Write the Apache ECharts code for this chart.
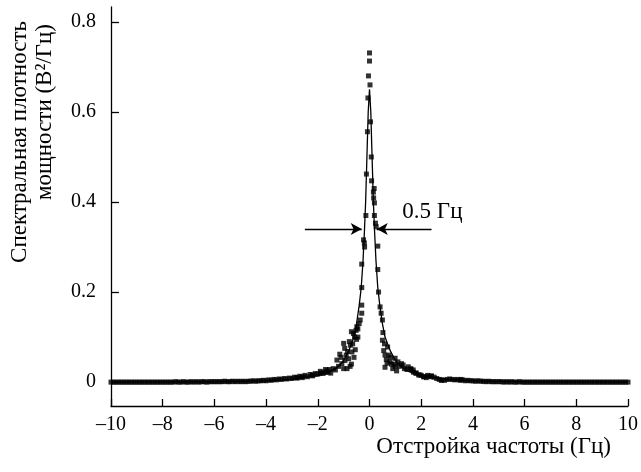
<!DOCTYPE html>
<html>
<head>
<meta charset="utf-8">
<script src="https://cdn.jsdelivr.net/npm/echarts@6/dist/echarts.min.js"></script>
<style>
  html, body { margin: 0; padding: 0; background: #ffffff; }
  #chart { width: 641px; height: 472px; }
</style>
</head>
<body>
<div id="chart"></div>
<script>
// Axis ticks
const xTicks = [-10, -8, -6, -4, -2, 0, 2, 4, 6, 8, 10];
const yTicks = [0, 0.2, 0.4, 0.6, 0.8];

// Measured spectrum, far wings: samples every 0.1 Hz
const tailStep = 0.1;
const leftTailStart = -10.0;   // -10.0 ... -1.6 Hz
const leftTail = [
  0.000, 0.000, 0.000, 0.000, 0.000, 0.000, 0.000, 0.000, 0.000, 0.000,
  0.000, 0.000, 0.000, 0.000, 0.000, 0.000, 0.000, 0.000, 0.000, 0.000,
  0.000, 0.000, 0.000, 0.000, 0.000, 0.001, 0.000, 0.000, 0.001, 0.000,
  0.000, 0.001, 0.000, 0.001, 0.000, 0.001, 0.001, 0.000, 0.001, 0.001,
  0.001, 0.001, 0.001, 0.001, 0.002, 0.001, 0.001, 0.002, 0.001, 0.002,
  0.001, 0.002, 0.001, 0.002, 0.002, 0.003, 0.002, 0.003, 0.003, 0.004,
  0.003, 0.005, 0.004, 0.006, 0.005, 0.007, 0.006, 0.008, 0.007, 0.009,
  0.008, 0.011, 0.009, 0.013, 0.010, 0.015, 0.012, 0.017, 0.014, 0.019,
  0.018, 0.024, 0.020, 0.028, 0.022
];
const rightTailStart = 1.6;    // 1.6 ... 10.0 Hz
const rightTail = [
  0.028, 0.022, 0.020, 0.016, 0.015,
  0.012, 0.010, 0.013, 0.014, 0.011, 0.008, 0.006, 0.005, 0.004, 0.006,
  0.007, 0.006, 0.005, 0.006, 0.004, 0.005, 0.003, 0.004, 0.003, 0.003,
  0.002, 0.003, 0.002, 0.002, 0.001, 0.002, 0.001, 0.001, 0.001, 0.001,
  0.001, 0.000, 0.001, 0.000, 0.001, 0.000, 0.000, 0.001, 0.000, 0.000,
  0.000, 0.000, 0.000, 0.000, 0.000, 0.000, 0.000, 0.000, 0.000, 0.000,
  0.000, 0.000, 0.000, 0.000, 0.000, 0.000, 0.000, 0.000, 0.000, 0.000,
  0.000, 0.000, 0.000, 0.000, 0.000, 0.000, 0.000, 0.000, 0.000, 0.000,
  0.000, 0.000, 0.000, 0.000, 0.000, 0.000, 0.000, 0.000, 0.000, 0.000
];

// Measured spectrum, central region [detuning Hz, PSD]
const centralPoints = [
  [0.00, 0.731], [0.00, 0.713], [-0.04, 0.680], [0.02, 0.660], [-0.06, 0.631],
  [0.04, 0.578], [-0.08, 0.556], [0.07, 0.500], [-0.12, 0.462], [0.08, 0.447],
  [0.15, 0.422], [0.16, 0.409], [0.19, 0.398], [0.18, 0.430], [-0.14, 0.370],
  [0.19, 0.370], [0.23, 0.353], [0.26, 0.345], [-0.23, 0.316], [-0.20, 0.309],
  [-0.19, 0.300], [0.32, 0.302], [-0.30, 0.262], [0.32, 0.250], [-0.30, 0.210],
  [0.35, 0.200], [-0.30, 0.171], [-0.30, 0.153], [-0.36, 0.138], [-0.40, 0.130],
  [-0.49, 0.123], [-0.45, 0.100], [-0.70, 0.112], [-0.62, 0.108], [-0.50, 0.095],
  [-1.00, 0.086], [-0.96, 0.075], [-0.74, 0.082], [-0.68, 0.067], [-0.55, 0.072],
  [-0.90, 0.060], [-0.60, 0.055], [-0.81, 0.052], [-1.26, 0.049], [-1.07, 0.041],
  [-1.20, 0.035], [-0.87, 0.030], [-1.32, 0.027], [-1.50, 0.020], [-1.64, 0.025],
  [-1.80, 0.020], [-0.70, 0.040], [-1.00, 0.030], [-1.10, 0.055],
  [-1.15, 0.062], [-0.95, 0.048], [-0.85, 0.068], [-0.78, 0.090], [-0.65, 0.085],
  [-0.58, 0.100], [-0.52, 0.115], [-0.45, 0.118], [-0.75, 0.035], [-1.40, 0.030],
  [-1.55, 0.028], [-1.70, 0.022], [-1.90, 0.020], [-2.20, 0.016], [-2.60, 0.012],
  [-2.80, 0.010],
  [0.41, 0.167], [0.45, 0.153], [0.50, 0.138], [0.50, 0.093], [0.55, 0.070],
  [0.70, 0.078], [0.60, 0.060], [0.65, 0.050], [0.60, 0.033], [0.79, 0.045],
  [0.85, 0.040], [0.90, 0.030], [0.99, 0.053], [1.05, 0.025], [1.10, 0.045],
  [1.24, 0.041], [1.35, 0.030], [1.50, 0.034], [1.69, 0.027], [1.95, 0.016],
  [2.40, 0.012], [2.78, 0.004], [3.54, 0.006],
  [0.52, 0.110], [0.58, 0.085], [0.75, 0.060], [0.95, 0.040], [1.15, 0.035],
  [1.30, 0.038], [1.45, 0.028], [1.60, 0.030], [1.80, 0.020], [2.10, 0.012],
  [2.25, 0.015], [0.68, 0.042], [0.82, 0.055], [1.00, 0.035]
];

// Lorentzian fit curve [detuning Hz, PSD]
const fitX = [-10, -6, -4, -3, -2, -1.5, -1.2, -1.0, -0.8, -0.6, -0.5, -0.4, -0.32, -0.25,
  -0.2, -0.15, -0.1, -0.05, 0, 0.05, 0.1, 0.15, 0.2, 0.25, 0.32, 0.4, 0.5, 0.6, 0.8, 1.0,
  1.2, 1.5, 2, 3, 4, 6, 10];
const fitY = [0.000, 0.001, 0.003, 0.006, 0.014, 0.024, 0.035, 0.048, 0.070, 0.100, 0.130,
  0.170, 0.210, 0.270, 0.330, 0.400, 0.500, 0.600, 0.650, 0.600, 0.500, 0.400, 0.330, 0.270,
  0.210, 0.170, 0.130, 0.100, 0.070, 0.048, 0.035, 0.024, 0.014, 0.006, 0.003, 0.001, 0.000];

// Linewidth marker (FWHM)
const widthLevel = 0.34;
const widthArrowLeft = [-2.5, -0.30];
const widthArrowRight = [2.4, 0.28];
const widthLabel = '0.5 Гц';
const widthLabelPos = [1.27, 0.378];

const xTitle = 'Отстройка частоты (Гц)';
const yTitle1 = 'Спектральная плотность';
const yTitle2 = 'мощности (В²/Гц)';

const FONT = 'Liberation Serif';
const FS = 20;      // tick labels
const FT = 23;      // axis titles and annotation

const tailPoints = [];
leftTail.forEach((v, i) => tailPoints.push([+(leftTailStart + i * tailStep).toFixed(2), v]));
rightTail.forEach((v, i) => tailPoints.push([+(rightTailStart + i * tailStep).toFixed(2), v]));
const fitData = fitX.map((x, i) => [x, fitY[i]]);

const chart = echarts.init(document.getElementById('chart'), null, { renderer: 'canvas' });

const option = {
  animation: false,
  backgroundColor: '#ffffff',
  grid: { left: 111, right: 10, top: 7, bottom: 66, containLabel: false },
  xAxis: {
    type: 'value',
    min: -10, max: 10, interval: 2,
    axisLine: { show: true, onZero: false, lineStyle: { color: '#000', width: 1.3 } },
    axisTick: { show: true, inside: true, length: 7, lineStyle: { color: '#000', width: 1.3 } },
    axisLabel: {
      show: true, margin: 9, color: '#000', fontFamily: FONT, fontSize: FS,
      formatter: v => (v < 0 ? '\u2013' + Math.abs(v) : String(v))
    },
    splitLine: { show: false }
  },
  yAxis: {
    type: 'value',
    min: -0.053, max: 0.833,
    axisLine: { show: true, onZero: false, lineStyle: { color: '#000', width: 1.3 } },
    axisTick: { show: true, inside: true, length: 8, customValues: yTicks, lineStyle: { color: '#000', width: 1.3 } },
    axisLabel: {
      show: true, margin: 15, color: '#000', fontFamily: FONT, fontSize: FS,
      customValues: yTicks,
      formatter: v => (v === 0 ? '0' : v.toFixed(1))
    },
    splitLine: { show: false }
  },
  series: [
    {
      name: 'tails', type: 'scatter', symbol: 'rect', symbolSize: 5,
      itemStyle: { color: '#000' }, data: tailPoints, silent: true
    },
    {
      name: 'centre', type: 'scatter', symbol: 'rect', symbolSize: 5,
      itemStyle: { color: '#000' }, data: centralPoints, silent: true
    },
    {
      name: 'fit', type: 'line', showSymbol: false, smooth: false,
      lineStyle: { color: '#000', width: 1.3 }, data: fitData, silent: true,
      markLine: {
        silent: true, animation: false,
        symbol: ['none', 'arrow'], symbolSize: [9, 11],
        lineStyle: { color: '#000', width: 1.3, type: 'solid' },
        label: { show: false },
        data: [
          [{ coord: [widthArrowLeft[0], widthLevel] }, { coord: [widthArrowLeft[1], widthLevel] }],
          [{ coord: [widthArrowRight[0], widthLevel] }, { coord: [widthArrowRight[1], widthLevel] }]
        ]
      }
    }
  ]
};
chart.setOption(option);

const labelPx = chart.convertToPixel({ gridIndex: 0 }, widthLabelPos);
const titleFont = FT + 'px "' + FONT + '"';
chart.setOption({
  graphic: [
    {
      type: 'text', x: labelPx[0], y: labelPx[1],
      style: { text: widthLabel, fill: '#000', font: titleFont, textAlign: 'left', textVerticalAlign: 'middle' }
    },
    {
      type: 'text', x: 611, y: 447,
      style: { text: xTitle, fill: '#000', font: titleFont, textAlign: 'right', textVerticalAlign: 'middle' }
    },
    {
      type: 'text', x: 20, y: 21, rotation: Math.PI / 2,
      style: { text: yTitle1, fill: '#000', font: titleFont, textAlign: 'right', textVerticalAlign: 'middle' }
    },
    {
      type: 'text', x: 45, y: 24, rotation: Math.PI / 2,
      style: { text: yTitle2, fill: '#000', font: titleFont, textAlign: 'right', textVerticalAlign: 'middle' }
    }
  ]
});
</script>
</body>
</html>
